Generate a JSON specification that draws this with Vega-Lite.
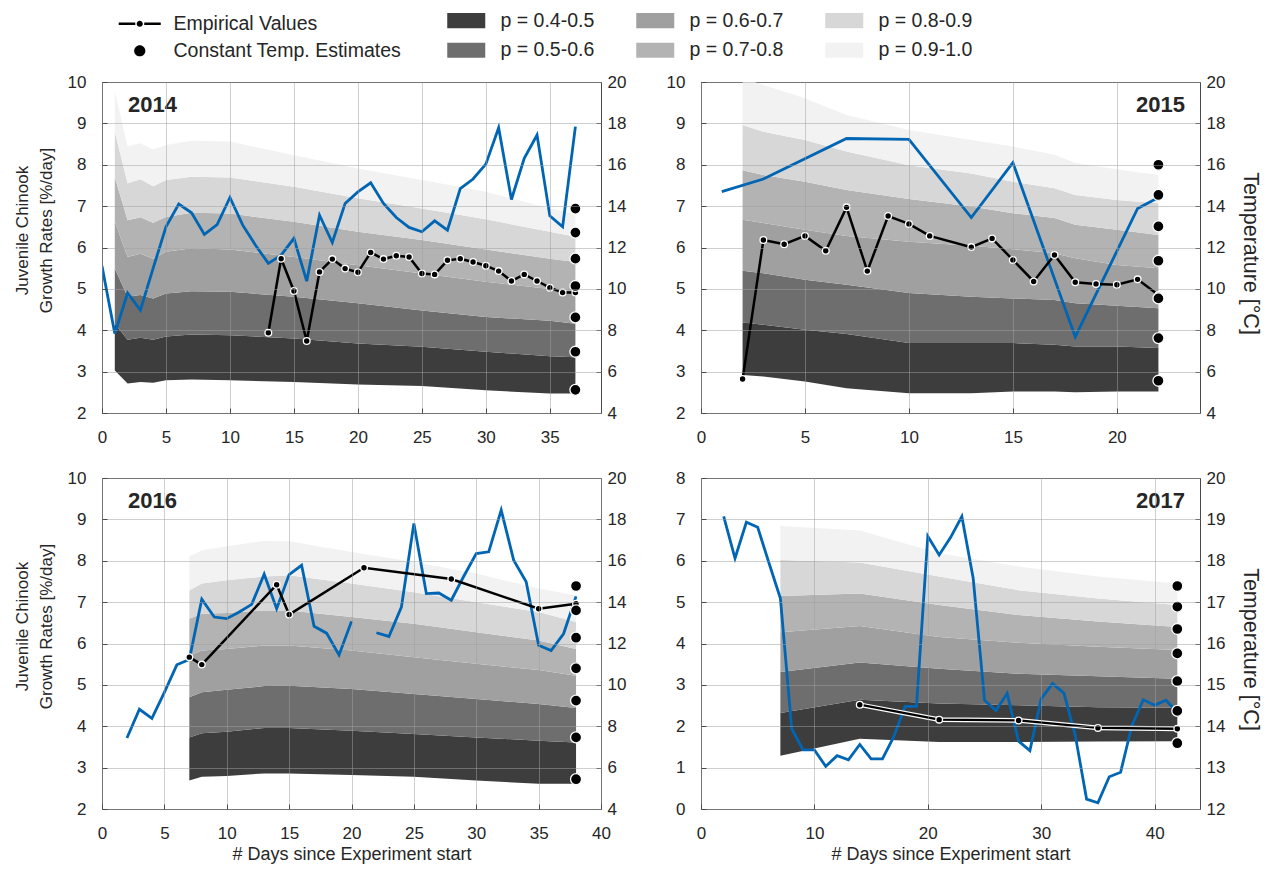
{
  "$schema": "https://vega.github.io/schema/vega-lite/v6.json",
  "padding": {"left": 12, "top": 10, "right": 5, "bottom": 5},
  "background": "white",
  "config": {
    "font": "Liberation Sans",
    "view": {"stroke": "#4a4a4a", "strokeWidth": 1},
    "axis": {"labelFont": "Liberation Sans", "labelFontSize": 17, "labelColor": "#262626", "titleFont": "Liberation Sans", "titleFontSize": 18, "titleFontWeight": "normal", "titleColor": "#262626", "domain": false, "ticks": true, "tickSize": -5, "tickColor": "#4a4a4a", "tickWidth": 1, "gridColor": "#a0a0a0", "gridOpacity": 0.5, "gridWidth": 1, "labelOverlap": false},
    "legend": {"labelFont": "Liberation Sans", "labelColor": "#262626", "labelFontSize": 19.5, "labelLimit": 0, "padding": 0, "symbolStrokeWidth": 0},
    "title": {"font": "Liberation Sans"}
  },
  "datasets": {
    "b2014": [
      {"day":1,"q4":3.03,"q5":4.16,"q6":5.49,"q7":6.62,"q8":7.7,"q9":8.8,"q10":9.77},
      {"day":2,"q4":2.71,"q5":3.77,"q6":4.81,"q7":5.77,"q8":6.66,"q9":7.55,"q10":8.45},
      {"day":3,"q4":2.75,"q5":3.82,"q6":4.85,"q7":5.85,"q8":6.73,"q9":7.65,"q10":8.52},
      {"day":4,"q4":2.73,"q5":3.77,"q6":4.77,"q7":5.73,"q8":6.6,"q9":7.48,"q10":8.37},
      {"day":5,"q4":2.79,"q5":3.85,"q6":4.89,"q7":5.9,"q8":6.74,"q9":7.63,"q10":8.48},
      {"day":7,"q4":2.81,"q5":3.9,"q6":4.94,"q7":5.98,"q8":6.84,"q9":7.71,"q10":8.58},
      {"day":10,"q4":2.79,"q5":3.88,"q6":4.93,"q7":5.95,"q8":6.82,"q9":7.69,"q10":8.56},
      {"day":15,"q4":2.75,"q5":3.8,"q6":4.81,"q7":5.77,"q8":6.62,"q9":7.47,"q10":8.23},
      {"day":20,"q4":2.69,"q5":3.68,"q6":4.65,"q7":5.57,"q8":6.38,"q9":7.19,"q10":7.91},
      {"day":25,"q4":2.65,"q5":3.6,"q6":4.48,"q7":5.37,"q8":6.18,"q9":6.94,"q10":7.63},
      {"day":30,"q4":2.55,"q5":3.48,"q6":4.32,"q7":5.17,"q8":5.95,"q9":6.68,"q10":7.35},
      {"day":35,"q4":2.47,"q5":3.37,"q6":4.23,"q7":5.0,"q8":5.73,"q9":6.38,"q10":6.94},
      {"day":37,"q4":2.47,"q5":3.35,"q6":4.16,"q7":4.93,"q8":5.65,"q9":6.26,"q10":6.82}
    ],
    "t2014": [
      {"day":0,"temp":11.1},{"day":1,"temp":7.84},{"day":2,"temp":9.8},{"day":3,"temp":8.97},{"day":4,"temp":11.0},
      {"day":5,"temp":13.0},{"day":6,"temp":14.1},{"day":7,"temp":13.68},{"day":8,"temp":12.63},{"day":9,"temp":13.11},
      {"day":10,"temp":14.42},{"day":11,"temp":13.08},{"day":12,"temp":12.11},{"day":13,"temp":11.23},{"day":14,"temp":11.63},
      {"day":15,"temp":12.44},{"day":16,"temp":10.37},{"day":17,"temp":13.56},{"day":18,"temp":12.24},{"day":19,"temp":14.13},
      {"day":20,"temp":14.69},{"day":21,"temp":15.13},{"day":22,"temp":14.13},{"day":23,"temp":13.45},{"day":24,"temp":12.97},
      {"day":25,"temp":12.76},{"day":26,"temp":13.29},{"day":27,"temp":12.84},{"day":28,"temp":14.85},{"day":29,"temp":15.31},
      {"day":30,"temp":16.03},{"day":31,"temp":17.79},{"day":32,"temp":14.32},{"day":33,"temp":16.31},{"day":34,"temp":17.44},
      {"day":35,"temp":13.53},{"day":36,"temp":13.0},{"day":37,"temp":17.84}
    ],
    "e2014": [
      {"day":13,"rate":3.94},{"day":14,"rate":5.73},{"day":15,"rate":4.95},{"day":16,"rate":3.74},{"day":17,"rate":5.41},
      {"day":18,"rate":5.72},{"day":19,"rate":5.49},{"day":20,"rate":5.4},{"day":21,"rate":5.88},{"day":22,"rate":5.72},
      {"day":23,"rate":5.8},{"day":24,"rate":5.77},{"day":25,"rate":5.37},{"day":26,"rate":5.35},{"day":27,"rate":5.69},
      {"day":28,"rate":5.73},{"day":29,"rate":5.65},{"day":30,"rate":5.56},{"day":31,"rate":5.43},{"day":32,"rate":5.19},
      {"day":33,"rate":5.35},{"day":34,"rate":5.19},{"day":35,"rate":5.03},{"day":36,"rate":4.91},{"day":37,"rate":4.91}
    ],
    "c2014": [
      {"day":37,"rate":6.94},{"day":37,"rate":6.36},{"day":37,"rate":5.73},{"day":37,"rate":5.07},
      {"day":37,"rate":4.31},{"day":37,"rate":3.48},{"day":37,"rate":2.56}
    ],
    "b2015": [
      {"day":2,"q4":2.92,"q5":4.19,"q6":5.44,"q7":6.67,"q8":7.87,"q9":8.96,"q10":10.1},
      {"day":3,"q4":2.88,"q5":4.13,"q6":5.38,"q7":6.59,"q8":7.75,"q9":8.8,"q10":9.93},
      {"day":5,"q4":2.76,"q5":4.01,"q6":5.22,"q7":6.43,"q8":7.59,"q9":8.6,"q10":9.61},
      {"day":7,"q4":2.6,"q5":3.91,"q6":5.1,"q7":6.28,"q8":7.39,"q9":8.32,"q10":9.2},
      {"day":10,"q4":2.48,"q5":3.69,"q6":4.9,"q7":6.14,"q8":7.17,"q9":7.99,"q10":8.84},
      {"day":13,"q4":2.48,"q5":3.69,"q6":4.81,"q7":6.04,"q8":6.99,"q9":7.79,"q10":8.6},
      {"day":15,"q4":2.52,"q5":3.69,"q6":4.77,"q7":5.96,"q8":6.83,"q9":7.59,"q10":8.44},
      {"day":17,"q4":2.52,"q5":3.65,"q6":4.73,"q7":5.86,"q8":6.71,"q9":7.43,"q10":8.24},
      {"day":18,"q4":2.5,"q5":3.61,"q6":4.65,"q7":5.74,"q8":6.55,"q9":7.27,"q10":8.04},
      {"day":20,"q4":2.52,"q5":3.61,"q6":4.59,"q7":5.58,"q8":6.43,"q9":7.15,"q10":7.89},
      {"day":22,"q4":2.52,"q5":3.57,"q6":4.53,"q7":5.5,"q8":6.3,"q9":7.07,"q10":7.75}
    ],
    "t2015": [
      {"day":1,"temp":14.7},{"day":3,"temp":15.31},{"day":7,"temp":17.27},{"day":10,"temp":17.23},{"day":13,"temp":13.45},
      {"day":15,"temp":16.1},{"day":18,"temp":7.68},{"day":21,"temp":13.89},{"day":22,"temp":14.42}
    ],
    "e2015": [
      {"day":2,"rate":2.82},{"day":3,"rate":6.18},{"day":4,"rate":6.08},{"day":5,"rate":6.28},{"day":6,"rate":5.92},
      {"day":7,"rate":6.97},{"day":8,"rate":5.43},{"day":9,"rate":6.76},{"day":10,"rate":6.57},{"day":11,"rate":6.28},
      {"day":13,"rate":6.01},{"day":14,"rate":6.22},{"day":15,"rate":5.7},{"day":16,"rate":5.18},{"day":17,"rate":5.82},
      {"day":18,"rate":5.16},{"day":19,"rate":5.12},{"day":20,"rate":5.1},{"day":21,"rate":5.23},{"day":22,"rate":4.85}
    ],
    "c2015": [
      {"day":22,"rate":8.0},{"day":22,"rate":7.27},{"day":22,"rate":6.51},{"day":22,"rate":5.68},
      {"day":22,"rate":4.77},{"day":22,"rate":3.81},{"day":22,"rate":2.78}
    ],
    "b2016": [
      {"day":7,"q4":2.69,"q5":3.73,"q6":4.7,"q7":5.71,"q8":6.6,"q9":7.28,"q10":8.11},
      {"day":8,"q4":2.78,"q5":3.83,"q6":4.82,"q7":5.83,"q8":6.72,"q9":7.45,"q10":8.25},
      {"day":10,"q4":2.8,"q5":3.87,"q6":4.88,"q7":5.87,"q8":6.74,"q9":7.53,"q10":8.35},
      {"day":13,"q4":2.86,"q5":3.96,"q6":4.97,"q7":5.95,"q8":6.8,"q9":7.62,"q10":8.48},
      {"day":15,"q4":2.86,"q5":3.96,"q6":4.98,"q7":5.95,"q8":6.8,"q9":7.65,"q10":8.47},
      {"day":20,"q4":2.82,"q5":3.89,"q6":4.9,"q7":5.83,"q8":6.64,"q9":7.45,"q10":8.21},
      {"day":25,"q4":2.78,"q5":3.81,"q6":4.78,"q7":5.67,"q8":6.48,"q9":7.24,"q10":7.97},
      {"day":30,"q4":2.69,"q5":3.73,"q6":4.66,"q7":5.51,"q8":6.27,"q9":7.0,"q10":7.69},
      {"day":35,"q4":2.61,"q5":3.65,"q6":4.54,"q7":5.36,"q8":6.07,"q9":6.76,"q10":7.33},
      {"day":38,"q4":2.61,"q5":3.61,"q6":4.44,"q7":5.22,"q8":5.87,"q9":6.52,"q10":7.16}
    ],
    "t2016": [
      {"day":2,"temp":7.43,"seg":1},{"day":3,"temp":8.82,"seg":1},{"day":4,"temp":8.38,"seg":1},{"day":5,"temp":9.64,"seg":1},
      {"day":6,"temp":10.97,"seg":1},{"day":7,"temp":11.23,"seg":1},{"day":8,"temp":14.14,"seg":1},{"day":9,"temp":13.28,"seg":1},
      {"day":10,"temp":13.2,"seg":1},{"day":11,"temp":13.52,"seg":1},{"day":12,"temp":13.89,"seg":1},{"day":13,"temp":15.35,"seg":1},
      {"day":14,"temp":13.68,"seg":1},{"day":15,"temp":15.33,"seg":1},{"day":16,"temp":15.78,"seg":1},{"day":17,"temp":12.83,"seg":1},
      {"day":18,"temp":12.5,"seg":1},{"day":19,"temp":11.45,"seg":1},{"day":20,"temp":13.07,"seg":1},
      {"day":22,"temp":12.52,"seg":2},{"day":23,"temp":12.34,"seg":2},{"day":24,"temp":13.76,"seg":2},{"day":25,"temp":17.8,"seg":2},
      {"day":26,"temp":14.41,"seg":2},{"day":27,"temp":14.44,"seg":2},{"day":28,"temp":14.09,"seg":2},{"day":29,"temp":15.25,"seg":2},
      {"day":30,"temp":16.35,"seg":2},{"day":31,"temp":16.43,"seg":2},{"day":32,"temp":18.45,"seg":2},{"day":33,"temp":16.03,"seg":2},
      {"day":34,"temp":14.98,"seg":2},{"day":35,"temp":11.91,"seg":2},{"day":36,"temp":11.66,"seg":2},{"day":37,"temp":12.47,"seg":2},
      {"day":38,"temp":14.28,"seg":2}
    ],
    "e2016": [
      {"day":7,"rate":5.67},{"day":8,"rate":5.49},{"day":14,"rate":7.42},{"day":15,"rate":6.7},
      {"day":21,"rate":7.83},{"day":28,"rate":7.56},{"day":35,"rate":6.84},{"day":38,"rate":6.96}
    ],
    "c2016": [
      {"day":38,"rate":7.39},{"day":38,"rate":6.8},{"day":38,"rate":6.14},{"day":38,"rate":5.4},
      {"day":38,"rate":4.62},{"day":38,"rate":3.73},{"day":38,"rate":2.72}
    ],
    "b2017": [
      {"day":7,"q4":1.29,"q5":2.32,"q6":3.31,"q7":4.27,"q8":5.15,"q9":6.02,"q10":6.84},
      {"day":14,"q4":1.7,"q5":2.64,"q6":3.54,"q7":4.42,"q8":5.21,"q9":5.96,"q10":6.73},
      {"day":21,"q4":1.62,"q5":2.55,"q6":3.39,"q7":4.16,"q8":4.93,"q9":5.62,"q10":6.18},
      {"day":28,"q4":1.62,"q5":2.51,"q6":3.27,"q7":4.02,"q8":4.69,"q9":5.29,"q10":5.86},
      {"day":35,"q4":1.63,"q5":2.46,"q6":3.21,"q7":3.92,"q8":4.53,"q9":5.09,"q10":5.62},
      {"day":42,"q4":1.64,"q5":2.45,"q6":3.15,"q7":3.84,"q8":4.4,"q9":4.93,"q10":5.45}
    ],
    "t2017": [
      {"day":2,"temp":19.07},{"day":3,"temp":18.06},{"day":4,"temp":18.93},{"day":5,"temp":18.81},{"day":6,"temp":17.94},
      {"day":7,"temp":17.09},{"day":8,"temp":13.94},{"day":9,"temp":13.43},{"day":10,"temp":13.43},{"day":11,"temp":13.03},
      {"day":12,"temp":13.29},{"day":13,"temp":13.19},{"day":14,"temp":13.56},{"day":15,"temp":13.21},{"day":16,"temp":13.21},
      {"day":17,"temp":13.75},{"day":18,"temp":14.48},{"day":19,"temp":14.48},{"day":20,"temp":18.59},{"day":21,"temp":18.14},
      {"day":22,"temp":18.56},{"day":23,"temp":19.07},{"day":24,"temp":17.58},{"day":25,"temp":14.63},{"day":26,"temp":14.38},
      {"day":27,"temp":14.79},{"day":28,"temp":13.64},{"day":29,"temp":13.41},{"day":30,"temp":14.67},{"day":31,"temp":15.03},
      {"day":32,"temp":14.8},{"day":33,"temp":13.78},{"day":34,"temp":12.24},{"day":35,"temp":12.15},{"day":36,"temp":12.78},
      {"day":37,"temp":12.89},{"day":38,"temp":14.02},{"day":39,"temp":14.64},{"day":40,"temp":14.51},{"day":41,"temp":14.63},
      {"day":42,"temp":14.34}
    ],
    "e2017": [
      {"day":14,"rate":2.52},{"day":21,"rate":2.16},{"day":28,"rate":2.14},{"day":35,"rate":1.96},{"day":42,"rate":1.94}
    ],
    "c2017": [
      {"day":42,"rate":5.39},{"day":42,"rate":4.89},{"day":42,"rate":4.35},{"day":42,"rate":3.76},
      {"day":42,"rate":3.09},{"day":42,"rate":2.37},{"day":42,"rate":1.59}
    ]
  },
  "columns": 2,
  "spacing": {"row": 65, "column": 100},
  "bounds": "flush",
  "resolve": {"scale": {"x": "independent", "y": "independent"}, "axis": {"x": "independent", "y": "independent"}},
  "concat": [
    {
      "width": 499, "height": 331,
      "title": {"text": "2014", "anchor": "start", "frame": "group", "offset": 0, "dx": 26, "dy": 61, "baseline": "alphabetic", "fontSize": 22, "fontWeight": "bold", "color": "#262626"},
      "encoding": {"x": {"field": "day", "type": "quantitative", "scale": {"domain": [0, 39], "nice": false, "zero": false}, "axis": {"values": [0,5,10,15,20,25,30,35], "grid": true, "zindex": 1, "title": null, "labelFlush": false, "labelPadding": 21}}},
      "layer": [
        {"data": {"name": "b2014"}, "layer": [
          {"mark": {"type": "area", "clip": true, "opacity": 1}, "encoding": {"y": {"field": "q4", "type": "quantitative", "scale": {"domain": [2, 10], "nice": false, "zero": false}, "axis": {"orient": "left", "values": [2,3,4,5,6,7,8,9,10], "grid": true, "zindex": 1, "labelPadding": 21, "title": ["Juvenile Chinook", "Growth Rates [%/day]"], "titleFontSize": 17, "titleY": 148, "titlePadding": 12, "titleLineHeight": 24}}, "y2": {"field": "q5"},
            "fill": {"datum": "p = 0.4-0.5", "type": "nominal", "scale": {"domain": ["p = 0.4-0.5", "p = 0.5-0.6", "p = 0.6-0.7", "p = 0.7-0.8", "p = 0.8-0.9", "p = 0.9-1.0"], "range": ["#3d3d3d", "#6e6e6e", "#a0a0a0", "#b3b3b3", "#d7d7d7", "#f2f2f2"]},
              "legend": {"orient": "none", "legendX": 354.5, "legendY": -71.5, "title": null, "columns": 3, "symbolType": "M-2,-0.8H2V0.8H-2Z", "symbolSize": 361, "symbolStrokeWidth": 0, "symbolOpacity": 1, "labelOffset": 24.5, "columnPadding": 41, "rowPadding": 9, "padding": 0}}}},
          {"mark": {"type": "area", "clip": true, "opacity": 1}, "encoding": {"y": {"field": "q5", "type": "quantitative", "scale": {"domain": [2, 10], "nice": false, "zero": false}, "axis": {"orient": "left", "values": [2,3,4,5,6,7,8,9,10], "grid": true, "zindex": 1, "labelPadding": 21, "title": ["Juvenile Chinook", "Growth Rates [%/day]"], "titleFontSize": 17, "titleY": 148, "titlePadding": 12, "titleLineHeight": 24}}, "y2": {"field": "q6"}, "fill": {"datum": "p = 0.5-0.6", "type": "nominal"}}},
          {"mark": {"type": "area", "clip": true, "opacity": 1}, "encoding": {"y": {"field": "q6", "type": "quantitative", "scale": {"domain": [2, 10], "nice": false, "zero": false}, "axis": {"orient": "left", "values": [2,3,4,5,6,7,8,9,10], "grid": true, "zindex": 1, "labelPadding": 21, "title": ["Juvenile Chinook", "Growth Rates [%/day]"], "titleFontSize": 17, "titleY": 148, "titlePadding": 12, "titleLineHeight": 24}}, "y2": {"field": "q7"}, "fill": {"datum": "p = 0.6-0.7", "type": "nominal"}}},
          {"mark": {"type": "area", "clip": true, "opacity": 1}, "encoding": {"y": {"field": "q7", "type": "quantitative", "scale": {"domain": [2, 10], "nice": false, "zero": false}, "axis": {"orient": "left", "values": [2,3,4,5,6,7,8,9,10], "grid": true, "zindex": 1, "labelPadding": 21, "title": ["Juvenile Chinook", "Growth Rates [%/day]"], "titleFontSize": 17, "titleY": 148, "titlePadding": 12, "titleLineHeight": 24}}, "y2": {"field": "q8"}, "fill": {"datum": "p = 0.7-0.8", "type": "nominal"}}},
          {"mark": {"type": "area", "clip": true, "opacity": 1}, "encoding": {"y": {"field": "q8", "type": "quantitative", "scale": {"domain": [2, 10], "nice": false, "zero": false}, "axis": {"orient": "left", "values": [2,3,4,5,6,7,8,9,10], "grid": true, "zindex": 1, "labelPadding": 21, "title": ["Juvenile Chinook", "Growth Rates [%/day]"], "titleFontSize": 17, "titleY": 148, "titlePadding": 12, "titleLineHeight": 24}}, "y2": {"field": "q9"}, "fill": {"datum": "p = 0.8-0.9", "type": "nominal"}}},
          {"mark": {"type": "area", "clip": true, "opacity": 1}, "encoding": {"y": {"field": "q9", "type": "quantitative", "scale": {"domain": [2, 10], "nice": false, "zero": false}, "axis": {"orient": "left", "values": [2,3,4,5,6,7,8,9,10], "grid": true, "zindex": 1, "labelPadding": 21, "title": ["Juvenile Chinook", "Growth Rates [%/day]"], "titleFontSize": 17, "titleY": 148, "titlePadding": 12, "titleLineHeight": 24}}, "y2": {"field": "q10"}, "fill": {"datum": "p = 0.9-1.0", "type": "nominal"}}}
        ]},
        {"data": {"name": "t2014"}, "mark": {"type": "line", "color": "#0065b3", "strokeWidth": 2.8, "clip": true},
          "encoding": {"y": {"field": "temp", "type": "quantitative", "scale": {"domain": [4, 20], "nice": false, "zero": false}, "axis": {"orient": "right", "values": [4,6,8,10,12,14,16,18,20], "grid": false, "title": null, "labelPadding": 11}}}},
        {"layer": [
          {"data": {"name": "e2014"}, "mark": {"type": "line", "color": "black", "strokeWidth": 2.5}, "encoding": {"y": {"field": "rate", "type": "quantitative", "scale": {"domain": [2, 10], "nice": false, "zero": false}, "axis": null}}},
          {"data": {"name": "e2014"}, "mark": {"type": "point", "filled": true, "color": "black", "opacity": 0, "size": 45},
            "encoding": {"y": {"field": "rate", "type": "quantitative", "scale": {"domain": [2, 10], "nice": false, "zero": false}, "axis": null},
              "shape": {"datum": "Empirical Values", "type": "nominal",
                "scale": {"domain": ["Empirical Values", "Constant Temp. Estimates"], "range": ["M-3,-0.18H-0.64V0.18H-3Z M0.64,-0.18H3V0.18H0.64Z M-0.44,0A0.44,0.44 0 1,0 0.44,0A0.44,0.44 0 1,0 -0.44,0Z", "M-0.8,0A0.8,0.8 0 1,0 0.8,0A0.8,0.8 0 1,0 -0.8,0Z"]},
                "legend": {"orient": "none", "legendX": 28, "legendY": -68, "title": null, "symbolSize": 196, "symbolStrokeWidth": 0, "symbolOpacity": 1, "symbolFillColor": "black", "labelOffset": 24, "rowPadding": 6, "padding": 0}}}},
          {"data": {"name": "e2014"}, "mark": {"type": "point", "filled": true, "color": "black", "stroke": "white", "strokeWidth": 1.3, "size": 45, "opacity": 1},
            "encoding": {"y": {"field": "rate", "type": "quantitative", "scale": {"domain": [2, 10], "nice": false, "zero": false}, "axis": null}}},
          {"data": {"name": "c2014"}, "mark": {"type": "point", "filled": true, "color": "black", "stroke": "white", "strokeWidth": 1.3, "size": 189, "opacity": 1},
            "encoding": {"y": {"field": "rate", "type": "quantitative", "scale": {"domain": [2, 10], "nice": false, "zero": false}, "axis": null},
              "shape": {"datum": "Constant Temp. Estimates", "type": "nominal"}}}
        ]}
      ],
      "resolve": {"scale": {"y": "independent"}, "axis": {"y": "independent"}}
    },
    {
      "width": 499, "height": 331,
      "title": {"text": "2015", "anchor": "end", "frame": "group", "offset": 0, "dx": -15, "dy": 61, "baseline": "alphabetic", "fontSize": 22, "fontWeight": "bold", "color": "#262626"},
      "encoding": {"x": {"field": "day", "type": "quantitative", "scale": {"domain": [0, 24], "nice": false, "zero": false}, "axis": {"values": [0,5,10,15,20], "grid": true, "zindex": 1, "title": null, "labelFlush": false, "labelPadding": 21}}},
      "layer": [
        {"data": {"name": "b2015"}, "layer": [
          {"mark": {"type": "area", "clip": true, "opacity": 1}, "encoding": {"y": {"field": "q4", "type": "quantitative", "scale": {"domain": [2, 10], "nice": false, "zero": false}, "axis": {"orient": "left", "values": [2,3,4,5,6,7,8,9,10], "grid": true, "zindex": 1, "labelPadding": 21, "title": null}}, "y2": {"field": "q5"}, "fill": {"datum": "p = 0.4-0.5", "type": "nominal"}}},
          {"mark": {"type": "area", "clip": true, "opacity": 1}, "encoding": {"y": {"field": "q5", "type": "quantitative", "scale": {"domain": [2, 10], "nice": false, "zero": false}, "axis": {"orient": "left", "values": [2,3,4,5,6,7,8,9,10], "grid": true, "zindex": 1, "labelPadding": 21, "title": null}}, "y2": {"field": "q6"}, "fill": {"datum": "p = 0.5-0.6", "type": "nominal"}}},
          {"mark": {"type": "area", "clip": true, "opacity": 1}, "encoding": {"y": {"field": "q6", "type": "quantitative", "scale": {"domain": [2, 10], "nice": false, "zero": false}, "axis": {"orient": "left", "values": [2,3,4,5,6,7,8,9,10], "grid": true, "zindex": 1, "labelPadding": 21, "title": null}}, "y2": {"field": "q7"}, "fill": {"datum": "p = 0.6-0.7", "type": "nominal"}}},
          {"mark": {"type": "area", "clip": true, "opacity": 1}, "encoding": {"y": {"field": "q7", "type": "quantitative", "scale": {"domain": [2, 10], "nice": false, "zero": false}, "axis": {"orient": "left", "values": [2,3,4,5,6,7,8,9,10], "grid": true, "zindex": 1, "labelPadding": 21, "title": null}}, "y2": {"field": "q8"}, "fill": {"datum": "p = 0.7-0.8", "type": "nominal"}}},
          {"mark": {"type": "area", "clip": true, "opacity": 1}, "encoding": {"y": {"field": "q8", "type": "quantitative", "scale": {"domain": [2, 10], "nice": false, "zero": false}, "axis": {"orient": "left", "values": [2,3,4,5,6,7,8,9,10], "grid": true, "zindex": 1, "labelPadding": 21, "title": null}}, "y2": {"field": "q9"}, "fill": {"datum": "p = 0.8-0.9", "type": "nominal"}}},
          {"mark": {"type": "area", "clip": true, "opacity": 1}, "encoding": {"y": {"field": "q9", "type": "quantitative", "scale": {"domain": [2, 10], "nice": false, "zero": false}, "axis": {"orient": "left", "values": [2,3,4,5,6,7,8,9,10], "grid": true, "zindex": 1, "labelPadding": 21, "title": null}}, "y2": {"field": "q10"}, "fill": {"datum": "p = 0.9-1.0", "type": "nominal"}}}
        ]},
        {"data": {"name": "t2015"}, "mark": {"type": "line", "color": "#0065b3", "strokeWidth": 2.8, "clip": true},
          "encoding": {"y": {"field": "temp", "type": "quantitative", "scale": {"domain": [4, 20], "nice": false, "zero": false}, "axis": {"orient": "right", "values": [4,6,8,10,12,14,16,18,20], "grid": false, "title": "Temperature [°C]", "titleFontSize": 21.5, "titleY": 171, "titlePadding": 14, "labelPadding": 11}}}},
        {"layer": [
          {"data": {"name": "e2015"}, "mark": {"type": "line", "color": "black", "strokeWidth": 2.5}, "encoding": {"y": {"field": "rate", "type": "quantitative", "scale": {"domain": [2, 10], "nice": false, "zero": false}, "axis": null}}},
          {"data": {"name": "e2015"}, "mark": {"type": "point", "filled": true, "color": "black", "stroke": "white", "strokeWidth": 1.3, "size": 45, "opacity": 1},
            "encoding": {"y": {"field": "rate", "type": "quantitative", "scale": {"domain": [2, 10], "nice": false, "zero": false}, "axis": null}}},
          {"data": {"name": "c2015"}, "mark": {"type": "point", "filled": true, "color": "black", "stroke": "white", "strokeWidth": 1.3, "size": 189, "opacity": 1},
            "encoding": {"y": {"field": "rate", "type": "quantitative", "scale": {"domain": [2, 10], "nice": false, "zero": false}, "axis": null}, "shape": {"datum": "Constant Temp. Estimates", "type": "nominal"}}}
        ]}
      ],
      "resolve": {"scale": {"y": "independent"}, "axis": {"y": "independent"}}
    },
    {
      "width": 499, "height": 331,
      "title": {"text": "2016", "anchor": "start", "frame": "group", "offset": 0, "dx": 26, "dy": 61, "baseline": "alphabetic", "fontSize": 22, "fontWeight": "bold", "color": "#262626"},
      "encoding": {"x": {"field": "day", "type": "quantitative", "scale": {"domain": [0, 40], "nice": false, "zero": false}, "axis": {"values": [0,5,10,15,20,25,30,35,40], "grid": true, "zindex": 1, "title": "# Days since Experiment start", "titlePadding": 4, "labelFlush": false, "labelPadding": 21}}},
      "layer": [
        {"data": {"name": "b2016"}, "layer": [
          {"mark": {"type": "area", "clip": true, "opacity": 1}, "encoding": {"y": {"field": "q4", "type": "quantitative", "scale": {"domain": [2, 10], "nice": false, "zero": false}, "axis": {"orient": "left", "values": [2,3,4,5,6,7,8,9,10], "grid": true, "zindex": 1, "labelPadding": 21, "title": ["Juvenile Chinook", "Growth Rates [%/day]"], "titleFontSize": 17, "titleY": 148, "titlePadding": 12, "titleLineHeight": 24}}, "y2": {"field": "q5"}, "fill": {"datum": "p = 0.4-0.5", "type": "nominal"}}},
          {"mark": {"type": "area", "clip": true, "opacity": 1}, "encoding": {"y": {"field": "q5", "type": "quantitative", "scale": {"domain": [2, 10], "nice": false, "zero": false}, "axis": {"orient": "left", "values": [2,3,4,5,6,7,8,9,10], "grid": true, "zindex": 1, "labelPadding": 21, "title": ["Juvenile Chinook", "Growth Rates [%/day]"], "titleFontSize": 17, "titleY": 148, "titlePadding": 12, "titleLineHeight": 24}}, "y2": {"field": "q6"}, "fill": {"datum": "p = 0.5-0.6", "type": "nominal"}}},
          {"mark": {"type": "area", "clip": true, "opacity": 1}, "encoding": {"y": {"field": "q6", "type": "quantitative", "scale": {"domain": [2, 10], "nice": false, "zero": false}, "axis": {"orient": "left", "values": [2,3,4,5,6,7,8,9,10], "grid": true, "zindex": 1, "labelPadding": 21, "title": ["Juvenile Chinook", "Growth Rates [%/day]"], "titleFontSize": 17, "titleY": 148, "titlePadding": 12, "titleLineHeight": 24}}, "y2": {"field": "q7"}, "fill": {"datum": "p = 0.6-0.7", "type": "nominal"}}},
          {"mark": {"type": "area", "clip": true, "opacity": 1}, "encoding": {"y": {"field": "q7", "type": "quantitative", "scale": {"domain": [2, 10], "nice": false, "zero": false}, "axis": {"orient": "left", "values": [2,3,4,5,6,7,8,9,10], "grid": true, "zindex": 1, "labelPadding": 21, "title": ["Juvenile Chinook", "Growth Rates [%/day]"], "titleFontSize": 17, "titleY": 148, "titlePadding": 12, "titleLineHeight": 24}}, "y2": {"field": "q8"}, "fill": {"datum": "p = 0.7-0.8", "type": "nominal"}}},
          {"mark": {"type": "area", "clip": true, "opacity": 1}, "encoding": {"y": {"field": "q8", "type": "quantitative", "scale": {"domain": [2, 10], "nice": false, "zero": false}, "axis": {"orient": "left", "values": [2,3,4,5,6,7,8,9,10], "grid": true, "zindex": 1, "labelPadding": 21, "title": ["Juvenile Chinook", "Growth Rates [%/day]"], "titleFontSize": 17, "titleY": 148, "titlePadding": 12, "titleLineHeight": 24}}, "y2": {"field": "q9"}, "fill": {"datum": "p = 0.8-0.9", "type": "nominal"}}},
          {"mark": {"type": "area", "clip": true, "opacity": 1}, "encoding": {"y": {"field": "q9", "type": "quantitative", "scale": {"domain": [2, 10], "nice": false, "zero": false}, "axis": {"orient": "left", "values": [2,3,4,5,6,7,8,9,10], "grid": true, "zindex": 1, "labelPadding": 21, "title": ["Juvenile Chinook", "Growth Rates [%/day]"], "titleFontSize": 17, "titleY": 148, "titlePadding": 12, "titleLineHeight": 24}}, "y2": {"field": "q10"}, "fill": {"datum": "p = 0.9-1.0", "type": "nominal"}}}
        ]},
        {"data": {"name": "t2016"}, "mark": {"type": "line", "color": "#0065b3", "strokeWidth": 2.8, "clip": true},
          "encoding": {"detail": {"field": "seg", "type": "nominal"}, "y": {"field": "temp", "type": "quantitative", "scale": {"domain": [4, 20], "nice": false, "zero": false}, "axis": {"orient": "right", "values": [4,6,8,10,12,14,16,18,20], "grid": false, "title": null, "labelPadding": 11}}}},
        {"layer": [
          {"data": {"name": "e2016"}, "mark": {"type": "line", "color": "black", "strokeWidth": 2.5}, "encoding": {"y": {"field": "rate", "type": "quantitative", "scale": {"domain": [2, 10], "nice": false, "zero": false}, "axis": null}}},
          {"data": {"name": "e2016"}, "mark": {"type": "point", "filled": true, "color": "black", "stroke": "white", "strokeWidth": 1.3, "size": 45, "opacity": 1},
            "encoding": {"y": {"field": "rate", "type": "quantitative", "scale": {"domain": [2, 10], "nice": false, "zero": false}, "axis": null}}},
          {"data": {"name": "c2016"}, "mark": {"type": "point", "filled": true, "color": "black", "stroke": "white", "strokeWidth": 1.3, "size": 189, "opacity": 1},
            "encoding": {"y": {"field": "rate", "type": "quantitative", "scale": {"domain": [2, 10], "nice": false, "zero": false}, "axis": null}, "shape": {"datum": "Constant Temp. Estimates", "type": "nominal"}}}
        ]}
      ],
      "resolve": {"scale": {"y": "independent"}, "axis": {"y": "independent"}}
    },
    {
      "width": 499, "height": 331,
      "title": {"text": "2017", "anchor": "end", "frame": "group", "offset": 0, "dx": -15, "dy": 61, "baseline": "alphabetic", "fontSize": 22, "fontWeight": "bold", "color": "#262626"},
      "encoding": {"x": {"field": "day", "type": "quantitative", "scale": {"domain": [0, 44], "nice": false, "zero": false}, "axis": {"values": [0,10,20,30,40], "grid": true, "zindex": 1, "title": "# Days since Experiment start", "titlePadding": 4, "labelFlush": false, "labelPadding": 21}}},
      "layer": [
        {"data": {"name": "b2017"}, "layer": [
          {"mark": {"type": "area", "clip": true, "opacity": 1}, "encoding": {"y": {"field": "q4", "type": "quantitative", "scale": {"domain": [0, 8], "nice": false, "zero": false}, "axis": {"orient": "left", "values": [0,1,2,3,4,5,6,7,8], "grid": true, "zindex": 1, "labelPadding": 21, "title": null}}, "y2": {"field": "q5"}, "fill": {"datum": "p = 0.4-0.5", "type": "nominal"}}},
          {"mark": {"type": "area", "clip": true, "opacity": 1}, "encoding": {"y": {"field": "q5", "type": "quantitative", "scale": {"domain": [0, 8], "nice": false, "zero": false}, "axis": {"orient": "left", "values": [0,1,2,3,4,5,6,7,8], "grid": true, "zindex": 1, "labelPadding": 21, "title": null}}, "y2": {"field": "q6"}, "fill": {"datum": "p = 0.5-0.6", "type": "nominal"}}},
          {"mark": {"type": "area", "clip": true, "opacity": 1}, "encoding": {"y": {"field": "q6", "type": "quantitative", "scale": {"domain": [0, 8], "nice": false, "zero": false}, "axis": {"orient": "left", "values": [0,1,2,3,4,5,6,7,8], "grid": true, "zindex": 1, "labelPadding": 21, "title": null}}, "y2": {"field": "q7"}, "fill": {"datum": "p = 0.6-0.7", "type": "nominal"}}},
          {"mark": {"type": "area", "clip": true, "opacity": 1}, "encoding": {"y": {"field": "q7", "type": "quantitative", "scale": {"domain": [0, 8], "nice": false, "zero": false}, "axis": {"orient": "left", "values": [0,1,2,3,4,5,6,7,8], "grid": true, "zindex": 1, "labelPadding": 21, "title": null}}, "y2": {"field": "q8"}, "fill": {"datum": "p = 0.7-0.8", "type": "nominal"}}},
          {"mark": {"type": "area", "clip": true, "opacity": 1}, "encoding": {"y": {"field": "q8", "type": "quantitative", "scale": {"domain": [0, 8], "nice": false, "zero": false}, "axis": {"orient": "left", "values": [0,1,2,3,4,5,6,7,8], "grid": true, "zindex": 1, "labelPadding": 21, "title": null}}, "y2": {"field": "q9"}, "fill": {"datum": "p = 0.8-0.9", "type": "nominal"}}},
          {"mark": {"type": "area", "clip": true, "opacity": 1}, "encoding": {"y": {"field": "q9", "type": "quantitative", "scale": {"domain": [0, 8], "nice": false, "zero": false}, "axis": {"orient": "left", "values": [0,1,2,3,4,5,6,7,8], "grid": true, "zindex": 1, "labelPadding": 21, "title": null}}, "y2": {"field": "q10"}, "fill": {"datum": "p = 0.9-1.0", "type": "nominal"}}}
        ]},
        {"data": {"name": "t2017"}, "mark": {"type": "line", "color": "#0065b3", "strokeWidth": 2.8, "clip": true},
          "encoding": {"y": {"field": "temp", "type": "quantitative", "scale": {"domain": [12, 20], "nice": false, "zero": false}, "axis": {"orient": "right", "values": [12,13,14,15,16,17,18,19,20], "grid": false, "title": "Temperature [°C]", "titleFontSize": 21.5, "titleY": 171, "titlePadding": 14, "labelPadding": 11}}}},
        {"layer": [
          {"data": {"name": "e2017"}, "mark": {"type": "line", "color": "white", "strokeWidth": 4.8}, "encoding": {"y": {"field": "rate", "type": "quantitative", "scale": {"domain": [0, 8], "nice": false, "zero": false}, "axis": null}}},
          {"data": {"name": "e2017"}, "mark": {"type": "line", "color": "black", "strokeWidth": 2.3}, "encoding": {"y": {"field": "rate", "type": "quantitative", "scale": {"domain": [0, 8], "nice": false, "zero": false}, "axis": null}}},
          {"data": {"name": "e2017"}, "mark": {"type": "point", "filled": true, "color": "black", "stroke": "white", "strokeWidth": 1.3, "size": 45, "opacity": 1},
            "encoding": {"y": {"field": "rate", "type": "quantitative", "scale": {"domain": [0, 8], "nice": false, "zero": false}, "axis": null}}},
          {"data": {"name": "c2017"}, "mark": {"type": "point", "filled": true, "color": "black", "stroke": "white", "strokeWidth": 1.3, "size": 189, "opacity": 1},
            "encoding": {"y": {"field": "rate", "type": "quantitative", "scale": {"domain": [0, 8], "nice": false, "zero": false}, "axis": null}, "shape": {"datum": "Constant Temp. Estimates", "type": "nominal"}}}
        ]}
      ],
      "resolve": {"scale": {"y": "independent"}, "axis": {"y": "independent"}}
    }
  ]
}
